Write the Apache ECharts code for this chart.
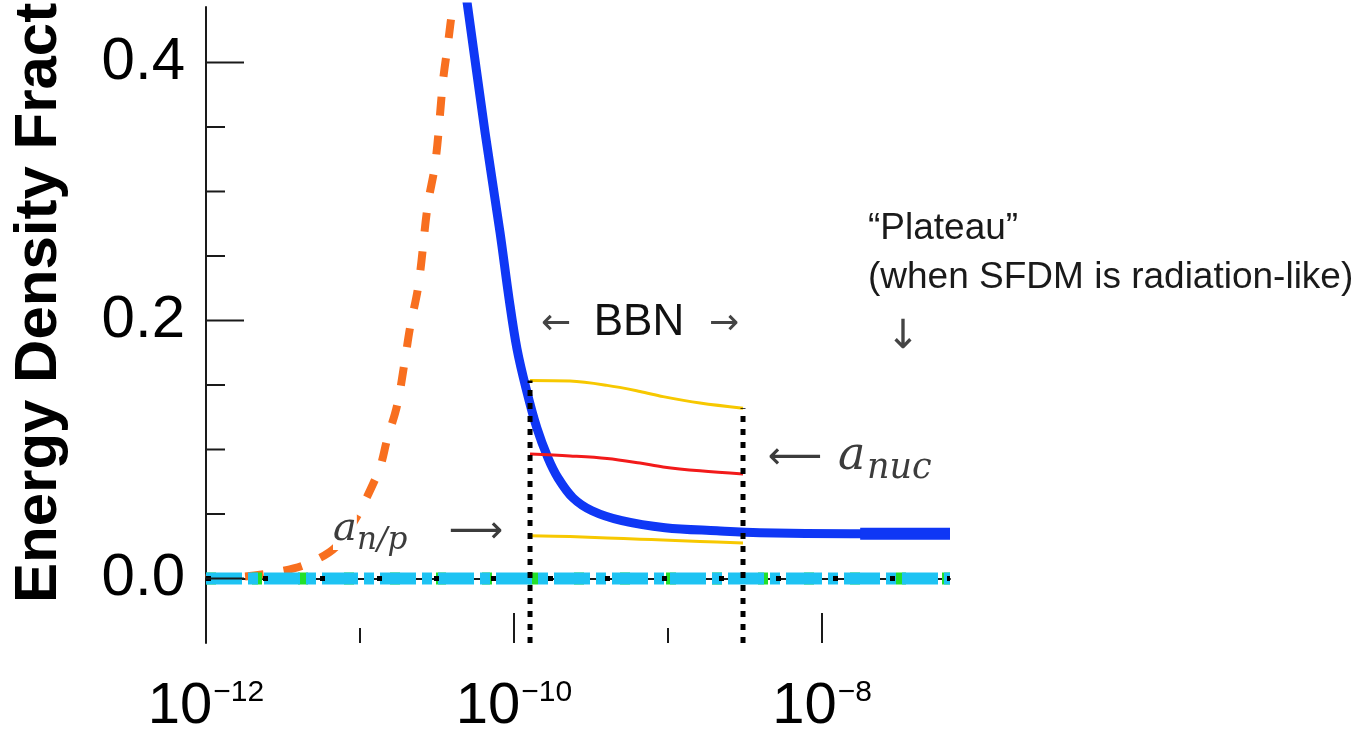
<!DOCTYPE html>
<html><head><meta charset="utf-8">
<script src="https://cdn.jsdelivr.net/npm/echarts@6/dist/echarts.min.js"></script>
<style>html,body{margin:0;padding:0;background:#fff}#c{width:1368px;height:736px}</style>
</head><body><div id="c"></div>
<script>
// ---- axis extents & ticks ----
const X_MIN = 1e-12, X_MAX = 6.78e-8;
const Y_MIN = -0.05, Y_MAX = 0.443;
const xTickMajor = [1e-12, 1e-10, 1e-8];
const xTickMinor = [1e-11, 1e-9];
const xLabelExponents = [-12, -10, -8];
const yTickMajor = [0, 0.2, 0.4];
const yTickMinor = [0.05, 0.1, 0.15, 0.25, 0.3, 0.35];
const yLabels = ['0.0', '0.2', '0.4'];

// ---- SFDM (blue solid) ----
const sfdmX = [4.71e-11, 5.02e-11, 6.49e-11, 8.11e-11, 9.29e-11, 1.045e-10, 1.197e-10, 1.409e-10, 1.663e-10, 1.932e-10, 2.415e-10, 3.21e-10, 5.02e-10, 9.57e-10, 2.08e-9, 3.95e-9, 1.52e-8, 6.78e-8];
const sfdmY = [0.465, 0.442, 0.3457, 0.2685, 0.2168, 0.1782, 0.1474, 0.1165, 0.0934, 0.0779, 0.0625, 0.0525, 0.0448, 0.0394, 0.037, 0.0355, 0.0347, 0.0347];
const plateauX = [1.77e-8, 6.78e-8];
const plateauY = [0.0347, 0.0347];

// ---- orange dashed ----
const orangeX = [1e-12, 1.15e-12, 1.5e-12, 2.88e-12, 4.68e-12, 7.41e-12, 1.29e-11, 1.51e-11, 1.74e-11, 1.95e-11, 2.11e-11, 2.40e-11, 2.75e-11, 3.09e-11, 3.47e-11, 3.72e-11, 3.98e-11, 4.27e-11];
const orangeY = [0.0, 0.0008, 0.001, 0.005, 0.012, 0.028, 0.080, 0.109, 0.134, 0.168, 0.194, 0.228, 0.289, 0.323, 0.387, 0.414, 0.442, 0.47];

// ---- BBN bounds ----
const bbnX = [1.271e-10, 2.31e-10, 4.02e-10, 6.58e-10, 9.29e-10, 1.615e-9, 3.07e-9];
const upperBoundY = [0.1535, 0.153, 0.1497, 0.145, 0.141, 0.136, 0.132];
const centralY = [0.0965, 0.095, 0.0930, 0.0895, 0.0865, 0.0835, 0.081];
const lowerBoundY = [0.0332, 0.0325, 0.0314, 0.0305, 0.0298, 0.0287, 0.0275];

// ---- markers ----
const aNP = 1.271e-10, aNPTop = 0.1535;
const aNuc = 3.07e-9, aNucTop = 0.132;
const zeroX = [1e-12, 6.78e-8];
const zeroY = [0, 0];

const SANS = '"Liberation Sans", Arial, Helvetica, sans-serif';
const MATH = '"DejaVu Serif", "Liberation Serif", serif';
const ARROW = '"DejaVu Sans", "Liberation Sans", sans-serif';

function pairs(xs, ys) { return xs.map((x, i) => [x, ys[i]]); }
function line(name, data, color, width, type, z, smooth) {
  return { name, type: 'line', data, symbol: 'none', showSymbol: false, smooth: smooth === undefined ? 0.35 : smooth,
    silent: true, animation: false, z,
    lineStyle: { color, width, type: type || 'solid', cap: 'butt', join: 'round' } };
}
function ticks(vals, isX, len, z) {
  return {
    type: 'custom', silent: true, clip: false, animation: false, z,
    data: vals.map(v => isX ? [v, Y_MIN] : [X_MIN, v]),
    encode: { x: 0, y: 1 },
    renderItem: (params, api) => {
      const p = api.coord([api.value(0), api.value(1)]);
      return { type: 'line',
        shape: isX ? { x1: p[0], y1: p[1], x2: p[0], y2: p[1] - len } : { x1: p[0], y1: p[1], x2: p[0] + len, y2: p[1] },
        style: { stroke: '#1a1a1a', lineWidth: 2 } };
    }
  };
}
function txt(x, y, text, size, opts) {
  opts = opts || {};
  return { type: 'text', x, y, z: 50, rotation: opts.rotation || 0,
    style: Object.assign({ text, fontSize: size, fontFamily: SANS, fill: '#1a1a1a', align: 'left', verticalAlign: 'middle' }, opts.style || {}) };
}

const chart = echarts.init(document.getElementById('c'));
chart.setOption({
  backgroundColor: '#ffffff',
  animation: false,
  grid: { left: 206, top: 7, right: 418, bottom: 91 },
  xAxis: {
    type: 'log', logBase: 10, min: X_MIN, max: X_MAX, splitNumber: 5,
    axisLine: { lineStyle: { color: '#1a1a1a', width: 2 } },
    axisTick: { show: false }, splitLine: { show: false }, minorTick: { show: false },
    axisLabel: {
      margin: 35, showMinLabel: true, showMaxLabel: false, hideOverlap: false,
      formatter: v => {
        const e = Math.round(Math.log10(v));
        if (Math.abs(Math.log10(v) - e) > 1e-6) return '';
        return xLabelExponents.indexOf(e) >= 0 ? '{b|10}{s|−' + Math.abs(e) + '}' : '';
      },
      rich: {
        b: { fontSize: 58, fontFamily: SANS, color: '#000', lineHeight: 58, verticalAlign: 'top' },
        s: { fontSize: 30, fontFamily: SANS, color: '#000', lineHeight: 30, verticalAlign: 'top', padding: [0, 0, 0, 1] }
      }
    }
  },
  yAxis: {
    type: 'value', min: Y_MIN, max: Y_MAX, interval: 0.05,
    axisLine: { lineStyle: { color: '#1a1a1a', width: 2 } },
    axisTick: { show: false }, splitLine: { show: false },
    axisLabel: {
      margin: 21, fontSize: 60, fontFamily: SANS, color: '#000', showMaxLabel: false,
      formatter: v => {
        const k = Math.round(v * 100);
        const idx = yTickMajor.map(t => Math.round(t * 100)).indexOf(k);
        return idx >= 0 ? yLabels[idx] : '';
      }
    }
  },
  series: [
    ticks(xTickMajor, true, 30, 20),
    ticks(xTickMinor, true, 15, 20),
    ticks(yTickMajor, false, 38, 20),
    ticks(yTickMinor, false, 19, 20),
    line('n=0 orange', pairs(orangeX, orangeY), '#f86f1f', 8, [19, 20], 2),
    line('SFDM', pairs(sfdmX, sfdmY), '#0f37f5', 9, 'solid', 3),
    line('SFDM plateau', pairs(plateauX, plateauY), '#0f37f5', 12, 'solid', 3, false),
    line('upper bound', pairs(bbnX, upperBoundY), '#f7c800', 3, 'solid', 4),
    line('central', pairs(bbnX, centralY), '#f21a1a', 3, 'solid', 4),
    line('lower bound', pairs(bbnX, lowerBoundY), '#f7c800', 3, 'solid', 4),
    line('zero green', pairs(zeroX, zeroY), '#22e02a', 12, [10, 36], 5, false),
    line('zero cyan', pairs(zeroX, zeroY), '#1ec3f3', 12, [36, 6, 10, 6], 6, false),
    line('zero black', pairs(zeroX, zeroY), '#000000', 5, [5, 52], 7, false),
    line('a_n/p', [[aNP, Y_MIN], [aNP, aNPTop]], '#000000', 5, [6, 7], 8, false),
    line('a_nuc', [[aNuc, Y_MIN], [aNuc, aNucTop]], '#000000', 5, [6, 7], 8, false)
  ],
  graphic: [
    txt(39, 603, 'Energy Density Fract', 60, { rotation: Math.PI / 2, style: { fontWeight: 'bold', fill: '#000' } }),
    txt(868, 229, '\u201CPlateau\u201D', 37),
    txt(868, 278, '(when SFDM is radiation-like)', 37),
    txt(903, 338, '\u2193', 40, { style: { fontFamily: ARROW, fill: '#444', align: 'center' } }),
    txt(556, 325, '\u2190', 36, { style: { fontFamily: ARROW, fill: '#444', align: 'center' } }),
    txt(639, 323, 'BBN', 44, { style: { fill: '#111', align: 'center' } }),
    txt(724, 325, '\u2192', 36, { style: { fontFamily: ARROW, fill: '#444', align: 'center' } }),
    txt(333, 530, 'a', 40, { style: { fontFamily: MATH, fontStyle: 'italic', fill: '#3c3c3c', backgroundColor: '#fff' } }),
    txt(357, 541, 'n/p', 31, { style: { fontFamily: MATH, fontStyle: 'italic', fill: '#3c3c3c', backgroundColor: '#fff' } }),
    txt(476, 532, '\u27F6', 38, { style: { fontFamily: ARROW, fill: '#3c3c3c', align: 'center' } }),
    txt(795, 458, '\u27F5', 38, { style: { fontFamily: ARROW, fill: '#3c3c3c', align: 'center' } }),
    txt(838, 457, 'a', 46, { style: { fontFamily: MATH, fontStyle: 'italic', fill: '#3c3c3c' } }),
    txt(867, 469, 'nuc', 35, { style: { fontFamily: MATH, fontStyle: 'italic', fill: '#3c3c3c' } })
  ]
});
</script></body></html>
